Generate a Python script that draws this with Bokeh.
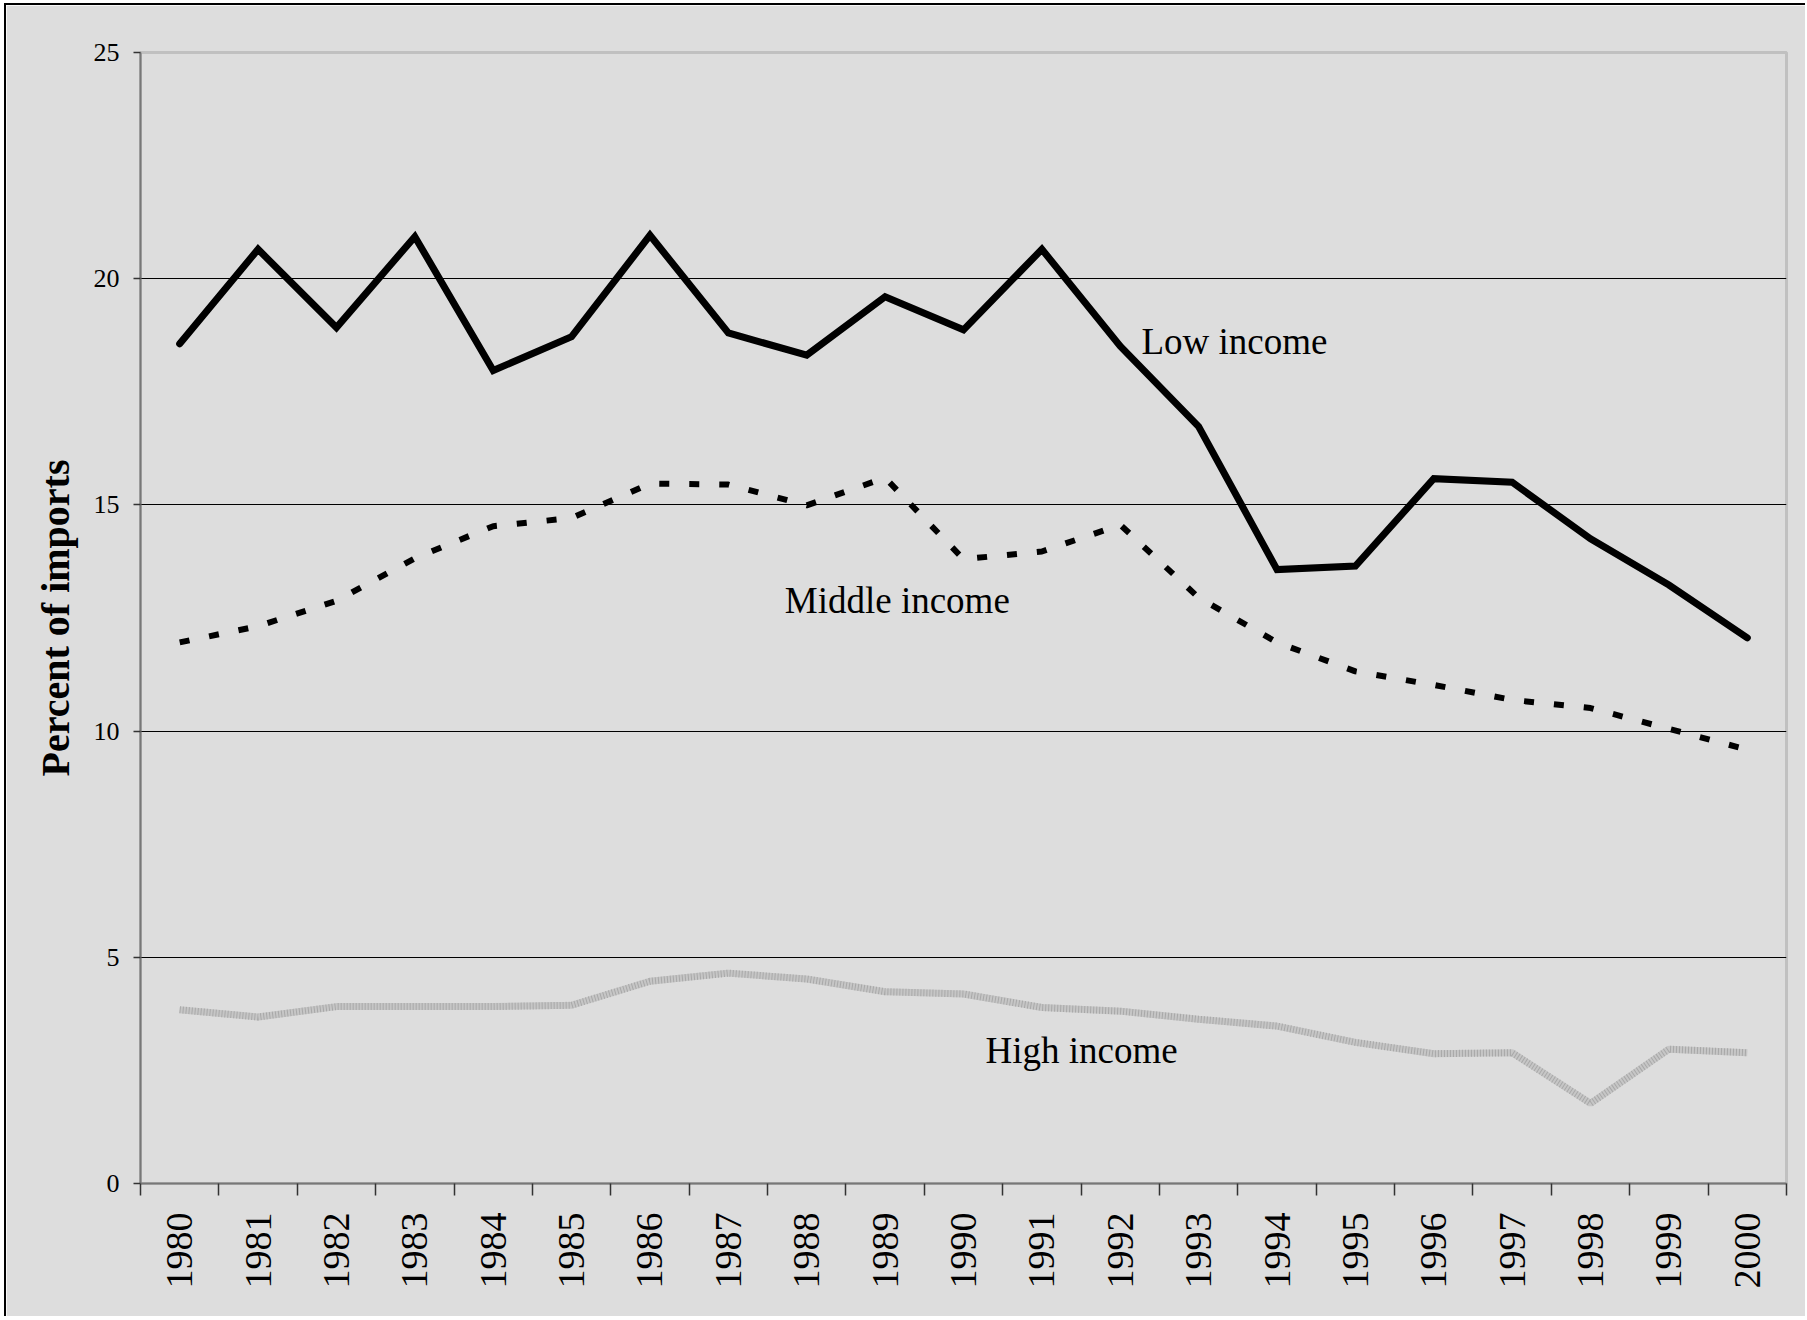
import math
from bokeh.plotting import figure
from bokeh.models import Range1d, FixedTicker, Label, ColumnDataSource
from bokeh.embed import file_html
from bokeh.resources import INLINE

years = [1980, 1981, 1982, 1983, 1984, 1985, 1986, 1987, 1988, 1989, 1990,
         1991, 1992, 1993, 1994, 1995, 1996, 1997, 1998, 1999, 2000]
low_income = [18.56, 20.65, 18.92, 20.93, 17.97, 18.72, 20.96, 18.80, 18.31, 19.60, 18.87,
              20.65, 18.51, 16.73, 13.57, 13.65, 15.58, 15.50, 14.25, 13.23, 12.06]
middle_income = [11.96, 12.32, 12.88, 13.82, 14.53, 14.71, 15.47, 15.45, 14.99, 15.60, 13.80,
                 13.97, 14.56, 12.95, 11.96, 11.32, 11.02, 10.69, 10.51, 10.05, 9.59]
high_income = [3.84, 3.68, 3.91, 3.91, 3.91, 3.94, 4.47, 4.65, 4.52, 4.24, 4.19,
               3.89, 3.81, 3.63, 3.48, 3.12, 2.87, 2.89, 1.77, 2.97, 2.89]
y_ticks = [0, 5, 10, 15, 20, 25]
grid_ticks = [5, 10, 15, 20]
series_names = ["Low income", "Middle income", "High income"]
y_title = "Percent of imports"

src = ColumnDataSource(dict(year=years, low=low_income, mid=middle_income, high=high_income))

SERIF = "Liberation Serif"

p = figure(frame_width=1646, frame_height=1131,
           x_range=Range1d(years[0] - 0.5, years[-1] + 0.5),
           y_range=Range1d(y_ticks[0], y_ticks[-1]),
           output_backend="svg", toolbar_location=None,
           min_border_left=134, min_border_top=47, min_border_right=19, min_border_bottom=133,
           background_fill_color="#dddddd", border_fill_color="#dddddd",
           outline_line_color="#c0c0c0", outline_line_width=3)
p.styles = {"margin-left": "4px", "margin-top": "3px",
            "border-left": "2px solid black", "border-top": "2px solid black"}

# x axis: labels at year centres, tick marks at category boundaries
xa = p.xaxis[0]
xa.ticker = FixedTicker(ticks=years, minor_ticks=[y - 0.5 for y in years] + [years[-1] + 0.5])
xa.major_tick_out = 0
xa.major_tick_in = 0
xa.minor_tick_out = 12
xa.minor_tick_in = 0
xa.minor_tick_line_color = "#333333"
xa.minor_tick_line_width = 1.5
xa.major_label_orientation = math.pi / 2
xa.major_label_text_font = SERIF
xa.major_label_text_font_size = "38px"
xa.major_label_text_color = "black"
xa.major_label_standoff = 17
xa.axis_line_color = "#777777"
xa.axis_line_width = 2

ya = p.yaxis[0]
ya.ticker = FixedTicker(ticks=y_ticks)
ya.major_tick_out = 7
ya.major_tick_in = 0
ya.minor_tick_out = 0
ya.minor_tick_in = 0
ya.major_tick_line_color = "#333333"
ya.major_tick_line_width = 1.5
ya.major_label_text_font = SERIF
ya.major_label_text_font_size = "26px"
ya.major_label_text_color = "black"
ya.major_label_standoff = 14
ya.axis_line_color = "#777777"
ya.axis_line_width = 2
ya.axis_label = y_title
ya.axis_label_text_font = SERIF
ya.axis_label_text_font_style = "bold"
ya.axis_label_text_font_size = "40px"
ya.axis_label_text_color = "black"
ya.axis_label_standoff = 13

p.xgrid.visible = False
p.ygrid.ticker = FixedTicker(ticks=grid_ticks)
p.ygrid.grid_line_color = "black"
p.ygrid.grid_line_width = 1

# High income: hatched light-gray band
p.line("year", "high", source=src, line_color="#c6c6c6", line_width=7)
p.line("year", "high", source=src, line_color="#a8a8a8", line_width=7, line_dash="1 2")
# Middle income: dashed black
p.line("year", "mid", source=src, line_color="black", line_width=6, line_dash="10 20")
# Low income: solid black
p.line("year", "low", source=src, line_color="black", line_width=7,
       line_join="miter", line_cap="round")

label_pos = [(1992.27, 18.61), (1987.72, 12.89), (1990.28, 2.94)]
for name, (lx, ly) in zip(series_names, label_pos):
    p.add_layout(Label(x=lx, y=ly, text=name, text_font=SERIF, text_font_size="37px",
                       text_color="black", text_baseline="middle", text_align="left"))

open("out.html", "w").write(file_html(p, INLINE))
